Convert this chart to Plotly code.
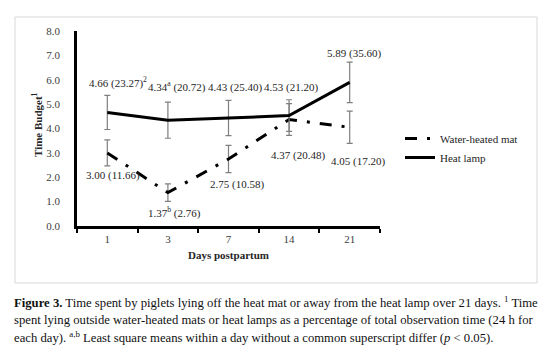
import plotly.graph_objects as go

days = ["1", "3", "7", "14", "21"]
heat_lamp = [4.66, 4.34, 4.43, 4.53, 5.89]
heat_lamp_err = [0.70, 0.74, 0.72, 0.65, 0.83]
heat_lamp_pct = [23.27, 20.72, 25.40, 21.20, 35.60]
heat_lamp_sup = ["", "a", "", "", ""]
heat_lamp_note = ["2", "", "", "", ""]
water_mat = [3.00, 1.37, 2.75, 4.37, 4.05]
water_mat_err = [0.53, 0.36, 0.56, 0.65, 0.66]
water_mat_pct = [11.66, 2.76, 10.58, 20.48, 17.20]
water_mat_sup = ["", "b", "", "", ""]
y_ticks = [0, 1, 2, 3, 4, 5, 6, 7, 8]

caption_lines = [
    "<b>Figure 3.</b> Time spent by piglets lying off the heat mat or away from the heat lamp over 21 days. <sup>1</sup> Time",
    "spent lying outside water-heated mats or heat lamps as a percentage of total observation time (24 h for",
    "each day). <sup>a,b</sup> Least square means within a day without a common superscript differ (<i>p</i> < 0.05).",
]

SERIF = "Liberation Serif, Times New Roman, serif"
W, H = 551, 352
L, R, T, B = 77, 171, 31, 126
PW, PH = W - L - R, H - T - B


def px(x):
    return (x - L) / PW


def py(y):
    return (H - B - y) / PH


fig = go.Figure()
fig.add_trace(go.Scatter(
    x=days, y=water_mat, mode="lines", name="Water-heated mat",
    line=dict(color="black", width=3, dash="12px,10px,3px,10px"),
    error_y=dict(type="data", array=water_mat_err, color="#7f7f7f", thickness=1.2, width=3),
))
fig.add_trace(go.Scatter(
    x=days, y=heat_lamp, mode="lines", name="Heat lamp",
    line=dict(color="black", width=3),
    error_y=dict(type="data", array=heat_lamp_err, color="#7f7f7f", thickness=1.2, width=3),
))

heat_off = [(11, 30), (9, 34), (6, 31), (2, 28), (4, 29)]
mat_off = [(6, -23), (7, -20), (8, -26), (9, -36), (8, -34)]
annotations = []
for i, d in enumerate(days):
    t = f"{heat_lamp[i]:.2f}" + (f"<sup>{heat_lamp_sup[i]}</sup>" if heat_lamp_sup[i] else "") + \
        f" ({heat_lamp_pct[i]:.2f})" + (f"<sup>{heat_lamp_note[i]}</sup>" if heat_lamp_note[i] else "")
    annotations.append(dict(x=i, y=heat_lamp[i], xref="x", yref="y", text=t, showarrow=False,
                            xshift=heat_off[i][0], yshift=heat_off[i][1],
                            font=dict(family=SERIF, size=11, color="#262626")))
    t = f"{water_mat[i]:.2f}" + (f"<sup>{water_mat_sup[i]}</sup>" if water_mat_sup[i] else "") + \
        f" ({water_mat_pct[i]:.2f})"
    annotations.append(dict(x=i, y=water_mat[i], xref="x", yref="y", text=t, showarrow=False,
                            xshift=mat_off[i][0], yshift=mat_off[i][1],
                            font=dict(family=SERIF, size=11, color="#262626")))

annotations.append(dict(x=px(37), y=py(125), xref="paper", yref="paper", textangle=-90,
                        text="<b>Time Budget<sup>1</sup></b>", showarrow=False,
                        xanchor="center", yanchor="middle",
                        font=dict(family=SERIF, size=11, color="#262626")))

for k, line in enumerate(caption_lines):
    annotations.append(dict(x=px(12), y=py(302 + 17.5 * k), xref="paper", yref="paper",
                            xanchor="left", yanchor="middle", text=line, showarrow=False,
                            font=dict(family=SERIF, size=12.7, color="#111111")))

fig.update_layout(
    width=W, height=H,
    margin=dict(l=L, r=R, t=T, b=B),
    paper_bgcolor="white", plot_bgcolor="white",
    font=dict(family=SERIF, size=11, color="#404040"),
    showlegend=True,
    legend=dict(x=px(400), y=py(124), xanchor="left", yanchor="top",
                font=dict(family=SERIF, size=11, color="#262626"),
                bgcolor="rgba(0,0,0,0)", itemwidth=30, tracegroupgap=0),
    annotations=annotations,
    shapes=[dict(type="rect", xref="paper", yref="paper",
                 x0=px(15), x1=px(537), y0=py(283), y1=py(17),
                 line=dict(color="#d9d9d9", width=1), layer="below")],
)
fig.update_xaxes(
    type="category", range=[-0.5, 4.5], showline=True, linecolor="black", linewidth=2.5,
    ticks="outside", tickson="boundaries", ticklen=4, tickwidth=2, tickcolor="black",
    showgrid=False, zeroline=False, ticklabelstandoff=1,
    tickfont=dict(family=SERIF, size=11, color="#404040"),
    title=dict(text="<b>Days postpartum</b>", standoff=8,
               font=dict(family=SERIF, size=11, color="#262626")),
)
fig.update_yaxes(
    range=[0, 8], tickvals=y_ticks, ticktext=[f"{v:.1f}" for v in y_ticks],
    showline=True, linecolor="black", linewidth=2.5, ticks="", showgrid=False, zeroline=False,
    ticklabelstandoff=12,
    tickfont=dict(family=SERIF, size=11, color="#404040"),
)

fig.write_html("out.html")
